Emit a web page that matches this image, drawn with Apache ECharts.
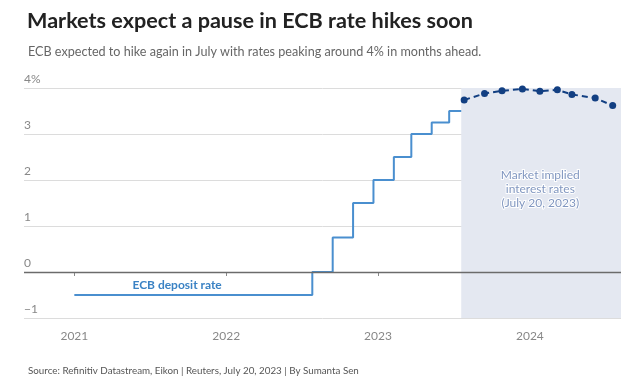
<!DOCTYPE html>
<html>
<head>
<meta charset="utf-8">
<script src="https://cdn.jsdelivr.net/npm/echarts@6/dist/echarts.min.js"></script>
<style>
html,body{margin:0;padding:0;background:#fff;}
#c{width:640px;height:381px;}
</style>
</head>
<body>
<div id="c"></div>
<script>
// ---- data ----
const depositDates = ['2021-01-01','2022-07-27','2022-09-14','2022-11-02','2022-12-21','2023-02-08','2023-03-22','2023-05-10','2023-06-21','2023-07-20'];
const depositRates = [-0.5, 0, 0.75, 1.5, 2, 2.5, 3, 3.25, 3.5, 3.5];
const impliedDates = ['2023-07-27','2023-09-14','2023-10-26','2023-12-14','2024-01-25','2024-03-07','2024-04-11','2024-06-06','2024-07-18'];
const impliedRates = [3.74, 3.88, 3.94, 3.98, 3.93, 3.96, 3.86, 3.78, 3.62];
const yTicks = [-1, 0, 1, 2, 3, 4];
const xMin = '2020-09-02';
const xMax = '2024-08-07';
const shadeStart = '2023-07-20';

const FONT = 'Lato';
const chart = echarts.init(document.getElementById('c'), null, {renderer:'canvas'});
const zip = (a,b) => a.map((d,i)=>[d,b[i]]);

chart.setOption({
  animation:false,
  backgroundColor:'#fff',
  textStyle:{fontFamily:FONT},
  title:[
    {text:'Markets expect a pause in ECB rate hikes soon', left:22, top:5,
     textStyle:{fontFamily:FONT, fontWeight:'bold', fontSize:21.6, color:'#222'}},
    {text:'ECB expected to hike again in July with rates peaking around 4% in months ahead.', left:23, top:40,
     textStyle:{fontFamily:FONT, fontWeight:'normal', fontSize:12.6, color:'#666'}},
    {text:'Source: Refinitiv Datastream, Eikon | Reuters, July 20, 2023 | By Sumanta Sen', left:23, top:361,
     textStyle:{fontFamily:FONT, fontWeight:'normal', fontSize:9.8, color:'#555'}}
  ],
  grid:{left:24, right:19, top:88, bottom:63, containLabel:false},
  xAxis:{
    type:'time', min:xMin, max:xMax,
    minInterval:365*24*3600*1000, maxInterval:366*24*3600*1000,
    axisLine:{show:false},
    axisTick:{show:true, length:4, lineStyle:{color:'#888'}},
    splitLine:{show:false},
    axisLabel:{formatter:'{yyyy}', color:'#888', fontSize:12, margin:12, fontFamily:FONT}
  },
  yAxis:{
    type:'value', min:-1, max:4, interval:1,
    axisLine:{show:false}, axisTick:{show:false},
    splitLine:{lineStyle:{color:'#dcdcdc', width:1}},
    axisLabel:{inside:true, verticalAlign:'bottom', align:'left', margin:0, padding:[0,0,3,0],
      color:'#888', fontSize:12, fontFamily:FONT,
      formatter:v => v===4 ? '4%' : (v<0 ? '\u2212'+Math.abs(v) : String(v))}
  },
  series:[
    {
      name:'Market implied', type:'line', data:zip(impliedDates, impliedRates),
      symbol:'circle', symbolSize:7, z:3,
      itemStyle:{color:'#123f82'},
      lineStyle:{color:'#123f82', width:2, type:[6,4]},
      markArea:{silent:true, itemStyle:{color:'#e4e8f1'},
        data:[[{xAxis:shadeStart, yAxis:4},{xAxis:xMax, yAxis:-1}]]},
      markPoint:{silent:true, symbolSize:0,
        data:[{coord:['2024-01-26', 1.8], value:0,
          label:{show:true, formatter:'Market implied\ninterest rates\n(July 20, 2023)',
            color:'#8197c0', fontSize:12, lineHeight:14, fontFamily:FONT,
            textBorderColor:'#fff', textBorderWidth:2, align:'center', verticalAlign:'middle'}}]}
    },
    {
      name:'ECB deposit rate', type:'line', step:'end', data:zip(depositDates, depositRates),
      symbol:'none', z:2,
      lineStyle:{color:'#4a8fcf', width:2},
      markLine:{silent:true, symbol:'none', label:{show:false},
        lineStyle:{color:'#6b6b6b', width:1.3, type:'solid'},
        data:[{yAxis:0}]},
      markPoint:{silent:true, symbolSize:0,
        data:[{coord:['2021-09-05', -0.28], value:0,
          label:{show:true, formatter:'ECB deposit rate', color:'#3a82c4', fontWeight:'bold',
            fontSize:12, fontFamily:FONT, align:'center', verticalAlign:'middle'}}]}
    }
  ]
});
</script>
</body>
</html>
